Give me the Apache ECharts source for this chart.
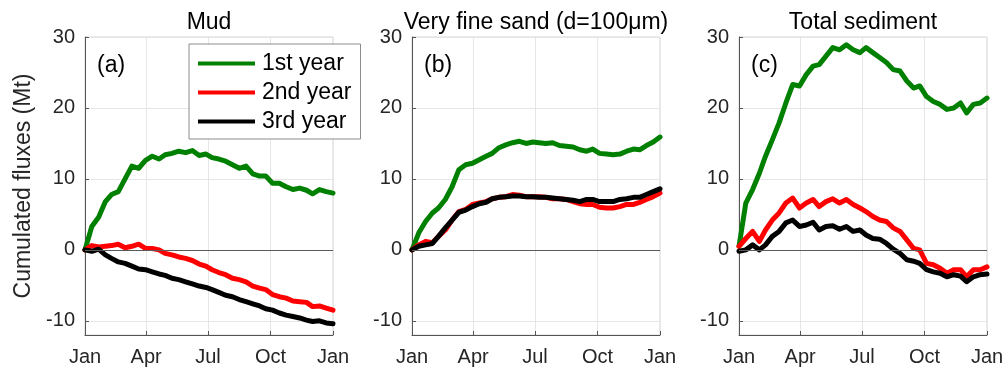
<!DOCTYPE html>
<html>
<head>
<meta charset="utf-8">
<script src="https://cdn.jsdelivr.net/npm/echarts@6/dist/echarts.min.js"></script>
<style>
  html, body { margin: 0; padding: 0; background: #fff; }
  #chart { width: 1008px; height: 372px; }
</style>
</head>
<body>
<div id="chart"></div>
<script>
// Day of year for each sample (roughly every 10 days)
const days = [0, 10, 20, 30, 39, 49, 59, 69, 79, 89, 99, 109, 118, 128, 138, 148, 158, 168, 178,
              187, 197, 207, 217, 227, 237, 247, 257, 266, 276, 286, 296, 306, 316, 326, 335, 345, 355, 365];

// Axis ticks
const monthTicks = [0, 90, 181, 273, 365];
const monthLabels = ['Jan', 'Apr', 'Jul', 'Oct', 'Jan'];
const fluxTicks = [-10, 0, 10, 20, 30];

// Panel texts
const panelTitles = ['Mud', 'Very fine sand (d=100\u03bcm)', 'Total sediment'];
const panelTags = ['(a)', '(b)', '(c)'];
const yearNames = ['1st year', '2nd year', '3rd year'];
const yearColors = ['#008000', '#ff0000', '#000000'];

// Cumulated fluxes (Mt) — mud
const mudYear1 = [0, 3.3, 4.6, 6.8, 7.8, 8.2, 10.0, 11.8, 11.5, 12.6, 13.2, 12.8, 13.4, 13.6, 13.9, 13.7, 14.0, 13.3, 13.5,
                  13.0, 12.8, 12.5, 12.0, 11.5, 11.8, 10.7, 10.4, 10.4, 9.4, 9.4, 8.9, 8.5, 8.7, 8.4, 7.9, 8.5, 8.2, 8.0];
const mudYear2 = [0, 0.6, 0.4, 0.5, 0.6, 0.8, 0.3, 0.5, 0.8, 0.2, 0.2, 0.0, -0.5, -0.7, -1.0, -1.2, -1.5, -2.0, -2.3,
                  -2.8, -3.2, -3.5, -4.0, -4.2, -4.5, -5.1, -5.4, -5.6, -6.3, -6.6, -6.8, -7.2, -7.3, -7.4, -8.0, -7.9, -8.2, -8.5];
const mudYear3 = [0, -0.2, 0.1, -0.7, -1.2, -1.7, -1.9, -2.3, -2.7, -2.8, -3.1, -3.4, -3.6, -4.0, -4.2, -4.5, -4.8, -5.1, -5.3,
                  -5.6, -6.0, -6.4, -6.6, -7.0, -7.3, -7.6, -7.9, -8.3, -8.5, -8.9, -9.2, -9.4, -9.6, -9.9, -10.1, -10.0, -10.3, -10.4];

// Cumulated fluxes (Mt) — very fine sand
const sandYear1 = [0, 2.4, 4.0, 5.2, 5.9, 7.1, 8.9, 11.3, 12.0, 12.2, 12.7, 13.2, 13.6, 14.4, 14.8, 15.1, 15.3, 15.0, 15.2,
                   15.1, 15.0, 15.1, 14.7, 14.6, 14.5, 14.1, 13.9, 14.2, 13.6, 13.5, 13.4, 13.5, 13.9, 14.2, 14.1, 14.7, 15.2, 15.9];
const sandYear2 = [0, 0.7, 1.2, 1.0, 1.9, 2.8, 4.2, 5.4, 5.7, 6.4, 6.6, 6.8, 7.2, 7.4, 7.5, 7.8, 7.7, 7.5, 7.5,
                   7.5, 7.4, 7.2, 7.2, 7.1, 6.8, 6.5, 6.4, 6.4, 6.0, 5.9, 5.9, 6.1, 6.4, 6.4, 6.7, 7.1, 7.5, 8.0];
const sandYear3 = [0, 0.5, 0.7, 0.9, 1.9, 3.1, 4.2, 5.3, 5.6, 6.1, 6.5, 6.7, 7.2, 7.4, 7.5, 7.6, 7.6, 7.5, 7.5,
                   7.4, 7.4, 7.3, 7.2, 7.1, 7.0, 6.8, 7.1, 7.1, 6.8, 6.8, 6.8, 7.1, 7.2, 7.4, 7.4, 7.8, 8.2, 8.6];

// Cumulated fluxes (Mt) — total sediment
const totalYear1 = [0.5, 6.6, 8.5, 10.8, 13.2, 15.5, 17.9, 20.7, 23.3, 23.1, 24.7, 25.9, 26.1, 27.3, 28.5, 28.2, 28.9, 28.2, 27.8,
                    28.5, 27.8, 27.1, 26.4, 25.4, 25.2, 23.8, 22.8, 23.1, 21.6, 20.9, 20.5, 19.8, 20.0, 20.7, 19.3, 20.5, 20.7, 21.4];
const totalYear2 = [0.5, 1.6, 2.6, 1.2, 2.8, 4.2, 5.2, 6.6, 7.3, 5.9, 6.6, 7.1, 6.1, 6.8, 7.2, 6.6, 7.1, 6.4, 5.9,
                    5.4, 4.7, 4.2, 4.0, 3.1, 2.6, 1.4, 0.2, 0.0, -1.9, -2.1, -2.6, -3.3, -2.8, -2.8, -3.8, -2.8, -2.8, -2.4];
const totalYear3 = [-0.2, 0.0, 0.7, 0.0, 0.7, 1.9, 2.6, 3.8, 4.2, 3.3, 3.5, 3.9, 2.8, 3.3, 3.4, 2.9, 3.3, 2.6, 2.8,
                    2.1, 1.6, 1.5, 0.9, 0.1, -0.5, -1.4, -1.6, -1.9, -2.8, -3.1, -3.3, -3.8, -3.5, -3.7, -4.5, -3.8, -3.5, -3.4];

const panels = [
  [mudYear1, mudYear2, mudYear3],
  [sandYear1, sandYear2, sandYear3],
  [totalYear1, totalYear2, totalYear3]
];

const FONT = '"Liberation Sans", Arial, Helvetica, sans-serif';
const TICK_COLOR = '#262626';
const plotLefts = [85, 412, 739];
const plotWidth = 248;
const plotTop = 37;
const plotHeight = 298;

const grids = plotLefts.map(l => ({
  left: l, top: plotTop, width: plotWidth, height: plotHeight,
  show: true, borderColor: '#d4d4d4', borderWidth: 1, backgroundColor: 'transparent'
}));

const xAxes = plotLefts.map((_, k) => ({
  type: 'value', gridIndex: k, min: 0, max: 365,
  axisLine: { show: true, onZero: false, lineStyle: { color: '#555', width: 1 } },
  axisTick: { show: true, inside: true, length: 4, customValues: monthTicks, lineStyle: { color: '#555' } },
  axisLabel: {
    customValues: monthTicks,
    formatter: v => { const i = monthTicks.indexOf(v); return i >= 0 ? monthLabels[i] : ''; },
    color: TICK_COLOR, fontSize: 20, fontFamily: FONT, margin: 12
  },
  splitLine: { show: true, lineStyle: { color: '#e6e6e6', width: 1 } }
}));

const yAxes = plotLefts.map((_, k) => ({
  type: 'value', gridIndex: k, min: -12, max: 30,
  name: k === 0 ? 'Cumulated fluxes (Mt)' : '',
  nameLocation: 'middle', nameGap: 50,
  nameTextStyle: { fontSize: 23, fontFamily: FONT, color: TICK_COLOR },
  axisLine: { show: true, lineStyle: { color: '#555', width: 1 } },
  axisTick: { show: true, inside: true, length: 4, customValues: fluxTicks, lineStyle: { color: '#555' } },
  axisLabel: {
    customValues: fluxTicks,
    color: TICK_COLOR, fontSize: 20, fontFamily: FONT, margin: 10
  },
  splitLine: { show: true, lineStyle: { color: '#e6e6e6', width: 1 } }
}));

const series = [];
panels.forEach((sets, k) => {
  // zero reference line behind the curves
  series.push({
    type: 'line', name: 'zero', xAxisIndex: k, yAxisIndex: k, data: [], z: 1,
    markLine: {
      silent: true, symbol: 'none', label: { show: false },
      lineStyle: { color: '#5a5a5a', width: 1, type: 'solid' },
      data: [{ yAxis: 0 }]
    }
  });
  sets.forEach((vals, j) => {
    series.push({
      type: 'line', name: yearNames[j], xAxisIndex: k, yAxisIndex: k,
      data: days.map((d, i) => [d, vals[i]]),
      showSymbol: false, symbol: 'none', smooth: false, silent: true,
      lineStyle: { color: yearColors[j], width: 5, cap: 'round', join: 'round' },
      itemStyle: { color: yearColors[j] },
      z: 2 + j
    });
  });
});

const graphics = [];
panelTitles.forEach((t, k) => {
  graphics.push({
    type: 'text', x: plotLefts[k] + plotWidth / 2, y: 11, z: 10,
    style: { text: t, fontSize: 23, fontFamily: FONT, fill: '#000', align: 'center', verticalAlign: 'top' }
  });
  graphics.push({
    type: 'text', x: plotLefts[k] + 12, y: 54, z: 10,
    style: { text: panelTags[k], fontSize: 23, fontFamily: FONT, fill: '#000', align: 'left', verticalAlign: 'top' }
  });
});

const chart = echarts.init(document.getElementById('chart'), null, { renderer: 'canvas' });
chart.setOption({
  animation: false,
  backgroundColor: '#fff',
  grid: grids,
  xAxis: xAxes,
  yAxis: yAxes,
  legend: {
    data: yearNames, orient: 'vertical', left: 189, top: 44,
    padding: [6, 9, 4, 9], itemGap: 2, itemWidth: 57, itemHeight: 4, icon: 'rect',
    backgroundColor: '#fff', borderColor: '#8c8c8c', borderWidth: 1, borderRadius: 0,
    selectedMode: false, z: 20,
    textStyle: { fontSize: 23, fontFamily: FONT, color: '#000', lineHeight: 27, padding: [0, 0, 0, 2] }
  },
  graphic: graphics,
  series: series
});
</script>
</body>
</html>
